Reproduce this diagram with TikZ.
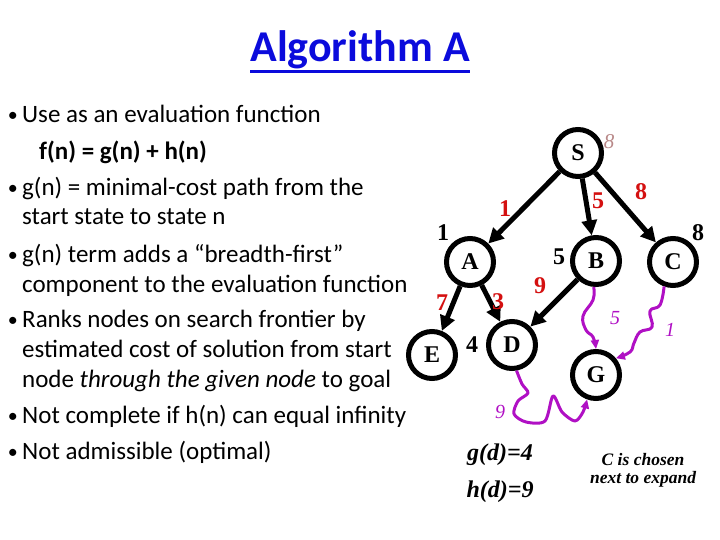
\documentclass[tikz,border=0pt]{standalone}
\usepackage{fontspec}
\usepackage{tikz}
\usetikzlibrary{arrows.meta, positioning}
\setmainfont{Carlito}
\newfontfamily\treefont{Liberation Serif}
\definecolor{titleBlue}{HTML}{0B0BDC}
\definecolor{costRed}{HTML}{D41010}
\definecolor{heurPurple}{HTML}{B010C4}
\definecolor{startPink}{HTML}{B88888}
\newcommand{\thickul}[1]{\leavevmode\vtop{\hbox{#1}\kern1pt\hrule height 2.6pt}}

\begin{document}
\begin{tikzpicture}[
    x=1pt, y=-1pt,
    % ── shared styles ───────────────────────────────────────────────
    state/.style={
        circle, draw=black, line width=5pt,
        minimum size=47pt, inner sep=0pt,
        font=\treefont\fontsize{24}{26}\selectfont\bfseries,
    },
    bullet text/.style={
        anchor=base west, inner sep=0pt,
        font=\fontsize{25}{30}\selectfont,
    },
    bullet dot/.style={
        anchor=base east, inner sep=0pt,
        font=\fontsize{20}{24}\selectfont,
    },
    edge cost/.style={
        text=costRed, inner sep=0pt,
        font=\treefont\fontsize{24}{26}\selectfont\bfseries,
    },
    path cost/.style={
        text=black, inner sep=0pt,
        font=\treefont\fontsize{24}{26}\selectfont\bfseries,
    },
    heur cost/.style={
        text=heurPurple, inner sep=0pt,
        font=\treefont\fontsize{20}{22}\selectfont\itshape,
    },
    note/.style={
        inner sep=0pt, align=center,
        font=\treefont\bfseries\itshape,
    },
    tree edge/.style={
        -{Triangle[length=15pt,width=15pt]},
        black, line width=5pt,
    },
    heur path/.style={
        -{Triangle[length=9pt,width=8pt]},
        heurPurple, line width=3pt, line join=round,
    },
]
\useasboundingbox (0,0) rectangle (720,540);

% =============================================================
%  TITLE
% =============================================================
\node[text=titleBlue, font=\fontsize{44}{50}\selectfont\bfseries,
      anchor=base] (title) at (360,62) {\thickul{Algorithm A}};

% =============================================================
%  BULLET LIST
% =============================================================
\node[bullet dot] (b1) at (18,122) {•};
\node[bullet text] (l1) at (22,123) {Use as an evaluation function};
\node[bullet text, font=\fontsize{25}{30}\selectfont\bfseries] (l2)
    at (39,160) {f(n) = g(n) + h(n)};

\node[bullet dot] (b2) at (18,195) {•};
\node[bullet text] (l3) at (22,196) {g(n) = minimal-cost path from the};
\node[bullet text] (l4) at (22,225) {start state to state n};

\node[bullet dot] (b3) at (18,261) {•};
\node[bullet text] (l5) at (22,262) {g(n) term adds a “breadth-first”};
\node[bullet text] (l6) at (22,292) {component to the evaluation function};

\node[bullet dot] (b4) at (18,326) {•};
\node[bullet text] (l7) at (22,327) {Ranks nodes on search frontier by};
\node[bullet text] (l8) at (22,357) {estimated cost of solution from start};
\node[bullet text] (l9) at (22,387) {node \textit{through the given node} to goal};

\node[bullet dot] (b5) at (18,422) {•};
\node[bullet text] (l10) at (22,423) {Not complete if h(n) can equal infinity};

\node[bullet dot] (b6) at (18,458) {•};
\node[bullet text] (l11) at (22,459) {Not admissible (optimal)};

% =============================================================
%  SEARCH TREE
% =============================================================
\node[state] (S) at (578,153) {S};
\node[state] (A) at (470,262) {A};
\node[state] (B) at (596,261) {B};
\node[state] (C) at (673,262) {C};
\node[state] (E) at (432,355) {E};
\node[state] (D) at (512,345) {D};
\node[state] (G) at (596,375) {G};

% Tree edges
\draw[tree edge] (S) -- (A);
\draw[tree edge] (S) -- (B);
\draw[tree edge] (S) -- (C);
\draw[tree edge] (A) -- (E);
\draw[tree edge] (A) -- (D);
\draw[tree edge] (B) -- (D);

% Edge costs
\node[edge cost] (cSA) at (505,209) {1};
\node[edge cost] (cSB) at (598,201) {5};
\node[edge cost] (cSC) at (641,192) {8};
\node[edge cost] (cAE) at (442,303) {7};
\node[edge cost] (cAD) at (498,302) {3};
\node[edge cost] (cBD) at (540,286) {9};

% Path costs g(n)
\node[path cost] (gA) at (443,233) {1};
\node[path cost] (gB) at (559,257) {5};
\node[path cost] (gC) at (698,233) {8};
\node[path cost] (gD) at (472,345) {4};
\node[inner sep=0pt, text=startPink,
      font=\treefont\fontsize{21}{23}\selectfont\itshape] (gS) at (609,142) {8};

% Heuristic paths to goal
\draw[heur path] plot[smooth, tension=0.7] coordinates
    {(B.265) (593,300) (583,316) (586,330) (593,337) (G.north)};
\draw[heur path] plot[smooth, tension=0.7] coordinates
    {(C.250) (660,305) (650,311) (652,327) (640,332) (634,343) (630,352) (G.40)};
\draw[heur path] plot[smooth, tension=0.5] coordinates
    {(D.-80) (522,384) (528,393) (518,401) (514,414) (526,422) (545,421)
     (553,396) (562,412) (575,421) (583,412) (G.250)};

\node[heur cost] (hB) at (615,318) {5};
\node[heur cost] (hC) at (670,330) {1};
\node[heur cost] (hD) at (500,412) {9};

% =============================================================
%  NOTES
% =============================================================
\node[note, font=\treefont\fontsize{24}{26}\selectfont\bfseries\itshape] (gd)
    at (500,455) {g(d)=4};
\node[note, font=\treefont\fontsize{24}{26}\selectfont\bfseries\itshape] (hd)
    at (500,492) {h(d)=9};
\node[note, font=\treefont\fontsize{17.5}{18}\selectfont\bfseries\itshape] (pick)
    at (643,470) {C is chosen\\next to expand};

\end{tikzpicture}
\end{document}
